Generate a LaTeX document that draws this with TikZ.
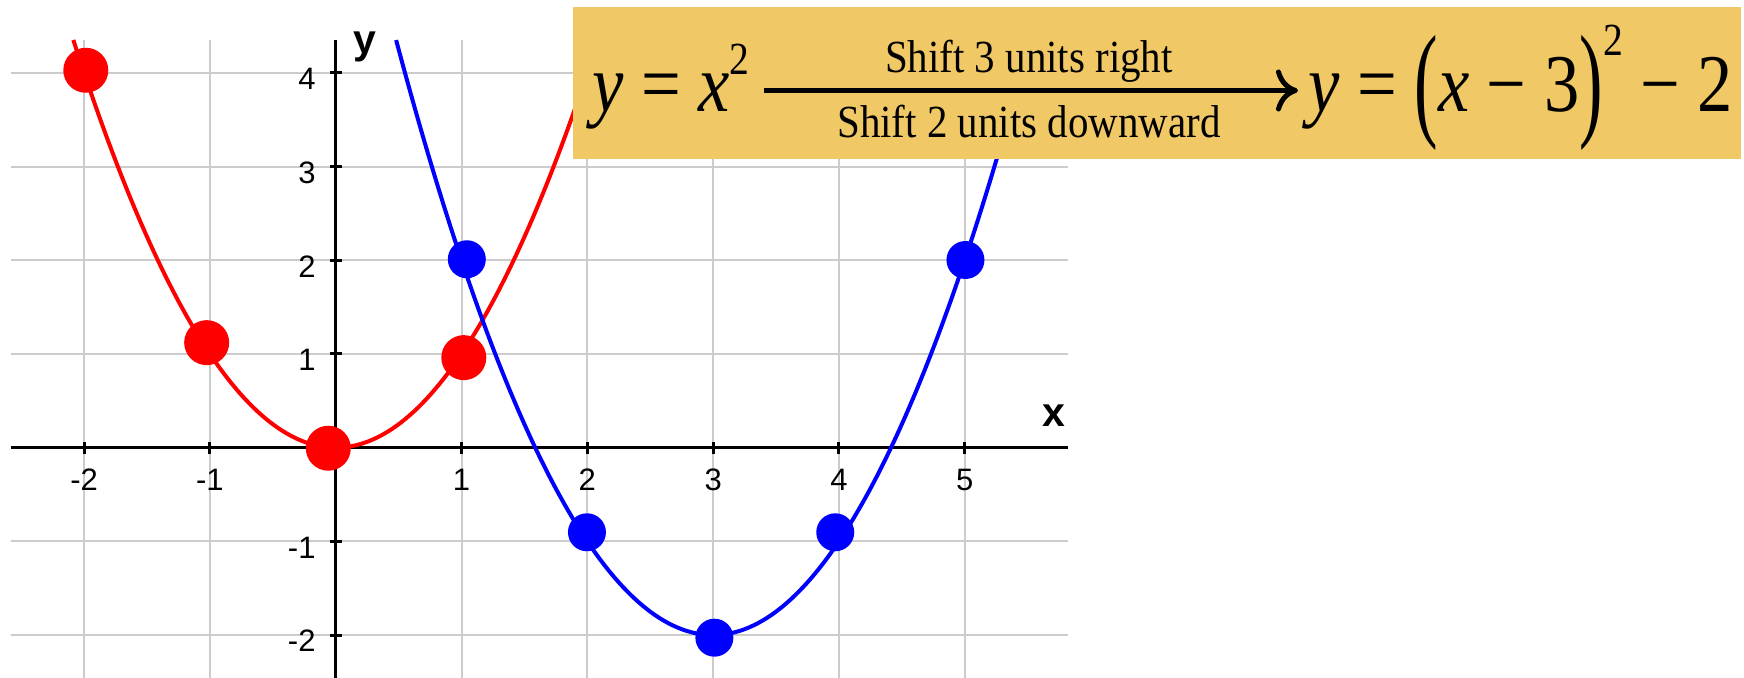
\documentclass[tikz,border=0pt]{standalone}
\usepackage{fontspec}
\setmainfont{Liberation Serif}
\setsansfont{Liberation Sans}
\usetikzlibrary{arrows.meta}
\definecolor{bannergold}{HTML}{F0C866}
\definecolor{gridgray}{HTML}{CCCCCC}
\tikzset{
  tick label/.style={font=\sffamily\fontsize{31}{31}\selectfont, inner sep=0pt},
  axis label/.style={font=\sffamily\bfseries\fontsize{41}{41}\selectfont, inner sep=0pt},
  banner text/.style={font=\fontsize{46}{46}\selectfont, inner sep=0pt},
  formula/.style={inner sep=0pt, anchor=base west},
}
\newcommand{\bigsize}{\fontsize{82}{82}\selectfont}
\newcommand{\supsize}{\fontsize{46}{46}\selectfont}
\newcommand{\tallparen}[1]{\raisebox{-12pt}{\scalebox{1}[1.55]{#1}}}

\begin{document}
\begin{tikzpicture}[x=125.8pt,y=93.7pt]
      \useasboundingbox (-2.669,-2.458) rectangle (11.195,4.778);
      % grid and axes
      \foreach \x in {-2,-1,1,2,3,4,5}
        \draw[gridgray,line width=2pt] (\x,-2.458) -- (\x,4.351);
      \foreach \y in {-2,-1,1,2,3,4}
        \draw[gridgray,line width=2pt] (-2.583,\y) -- (5.823,\y);
      \draw[line width=3pt] (-2.583,0) -- (5.823,0);
      \draw[line width=3pt] (0,-2.458) -- (0,4.351);
      \foreach \x [count=\i] in {-2,-1,1,2,3,4,5} {
        \draw[line width=3pt] ([yshift=-6pt]\x,0) -- ([yshift=6pt]\x,0);
        \node[tick label] (xt\i) at (\x,-0.342) {\x};
      }
      \foreach \y [count=\i] in {-2,-1,1,2,3,4} {
        \draw[line width=3pt] ([xshift=-6pt]0,\y) -- ([xshift=6pt]0,\y);
        \node[tick label,anchor=east] (yt\i) at ([xshift=-20pt,yshift=-6pt]0,\y) {\y};
      }
      \node[axis label] (xlabel) at (5.711,0.338) {x};
      \node[axis label] (ylabel) at (0.229,4.276) {y};

      % the two parabolas
      \draw[red,line width=4pt,domain=-2.086:2.086,samples=80,smooth] plot (\x,{\x*\x});
      \draw[blue,line width=4pt,domain=0.48:5.52,samples=80,smooth] plot (\x,{(\x-3)*(\x-3)-2});
      \foreach \px/\py in {-1.987/4.028,-1.026/1.121,-0.059/-0.006,1.018/0.961}
        \fill[red] (\px,\py) circle (22.5pt);
      \foreach \px/\py in {1.042/2.011,1.997/-0.903,3.010/-2.028,3.971/-0.903,5.006/2.003}
        \fill[blue] (\px,\py) circle (19pt);

      % banner, in pixel units
      \begin{scope}[shift={(-335.7pt,447.7pt)},x=1pt,y=-1pt]
        \fill[bannergold] (573.3,7.3) rectangle (1741,159.3);
        \node[formula] (lhs) at (592,112)
          {\scalebox{0.86}[1]{\bigsize\textit{y} = \textit{x}\raisebox{37pt}{\supsize 2}}};
        \node[formula] (rhs) at (1308,112)
          {\scalebox{0.86}[1]{\bigsize\textit{y} = \tallparen{(}\textit{x} − 3\tallparen{)}\raisebox{56pt}{\supsize 2} − 2}};
        \coordinate (mid) at (1032,90.5);
        \draw[line width=5pt,-{Computer Modern Rightarrow[length=22pt,width=42pt]},shorten <=14pt,shorten >=10pt]
          (lhs.east |- mid) -- (rhs.west |- mid)
          node[banner text,pos=0.5,anchor=base,yshift=17.5pt] (right3) {\scalebox{0.89}[1]{Shift 3 units right}}
          node[banner text,pos=0.5,anchor=base,yshift=-47pt] (down2) {\scalebox{0.89}[1]{Shift 2 units downward}};
      \end{scope}
\end{tikzpicture}
\end{document}
